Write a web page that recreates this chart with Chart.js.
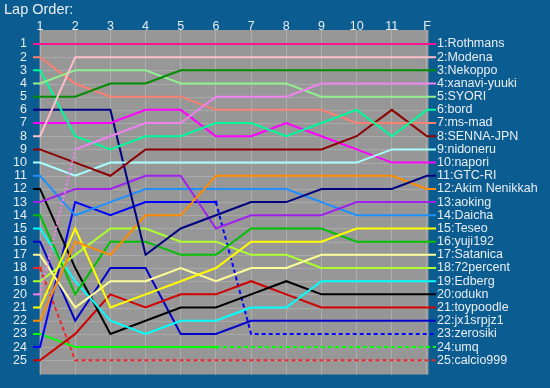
<!DOCTYPE html>
<html>
<head>
<meta charset="utf-8">
<title>Lap Order</title>
<script src="https://cdn.jsdelivr.net/npm/chart.js@4/dist/chart.umd.min.js"></script>
<style>
    html, body { margin: 0; padding: 0; background: #0b5c90; }
    #lapChart { display: block; }
</style>
</head>
<body>
<canvas id="lapChart" width="550" height="388"></canvas>
<script>
// ========== Data ==========
const lapLabels = ['1', '2', '3', '4', '5', '6', '7', '8', '9', '10', '11', 'F'];
const rowTicks = [1, 2, 3, 4, 5, 6, 7, 8, 9, 10, 11, 12, 13, 14, 15, 16, 17, 18, 19, 20, 21, 22, 23, 24, 25];

const drivers = [
    'Rothmans', 'Modena', 'Nekoppo', 'xanavi-yuuki', 'SYORI', 'bord', 'ms-mad', 'SENNA-JPN',
    'nidoneru', 'napori', 'GTC-RI', 'Akim Nenikkah', 'aoking', 'Daicha', 'Teseo', 'yuji192',
    'Satanica', '72percent', 'Edberg', 'odukn', 'toypoodle', 'jx1srpjz1', 'zerosiki', 'umq', 'calcio999'
];

// position after each lap (1..11, F)
const positions = [
    [1, 1, 1, 1, 1, 1, 1, 1, 1, 1, 1, 1],
    [8, 2, 2, 2, 2, 2, 2, 2, 2, 2, 2, 2],
    [5, 5, 4, 4, 3, 3, 3, 3, 3, 3, 3, 3],
    [20, 9, 8, 7, 7, 5, 5, 5, 4, 4, 4, 4],
    [4, 3, 3, 3, 4, 4, 4, 4, 5, 5, 5, 5],
    [3, 8, 9, 8, 8, 7, 7, 8, 7, 6, 8, 6],
    [2, 4, 5, 5, 5, 6, 6, 6, 6, 7, 7, 7],
    [9, 10, 11, 9, 9, 9, 9, 9, 9, 8, 6, 8],
    [10, 11, 10, 10, 10, 10, 10, 10, 10, 10, 9, 9],
    [7, 7, 7, 6, 6, 8, 8, 7, 8, 9, 10, 10],
    [6, 6, 6, 17, 15, 14, 13, 13, 12, 12, 12, 11],
    [22, 16, 17, 14, 14, 11, 11, 11, 11, 11, 11, 12],
    [13, 12, 12, 11, 11, 15, 14, 14, 14, 13, 13, 13],
    [11, 14, 13, 12, 12, 12, 12, 12, 13, 14, 14, 14],
    [21, 15, 21, 20, 19, 18, 16, 16, 16, 15, 15, 15],
    [14, 20, 16, 16, 17, 17, 15, 15, 15, 16, 16, 16],
    [17, 21, 19, 19, 18, 19, 18, 18, 17, 17, 17, 17],
    [19, 17, 15, 15, 16, 16, 17, 17, 18, 18, 18, 18],
    [15, 19, 22, 23, 22, 22, 21, 21, 19, 19, 19, 19],
    [12, 18, 23, 22, 21, 21, 20, 19, 20, 20, 20, 20],
    [25, 23, 20, 21, 20, 20, 19, 20, 21, 21, 21, 21],
    [16, 22, 18, 18, 23, 23, 22, 22, 22, 22, 22, 22],
    [24, 13, 14, 13, 13, 13, 23, 23, 23, 23, 23, 23],
    [23, 24, 24, 24, 24, 24, 24, 24, 24, 24, 24, 24],
    [18, 25, 25, 25, 25, 25, 25, 25, 25, 25, 25, 25]
];

// lap after which a driver retired (dashed afterwards), 0 = finished
const retiredLap = [0, 0, 0, 0, 0, 0, 0, 0, 0, 0, 0, 0, 0, 0, 0, 0, 0, 0, 0, 0, 0, 0, 6, 6, 1];
// lap where the next segment is a pit (dotted), 0 = none
const pitLap = [0, 0, 0, 1, 0, 0, 0, 0, 0, 0, 0, 0, 0, 0, 0, 0, 0, 0, 0, 0, 0, 0, 0, 0, 0];

// ========== Style ==========
const lineColors = [
    '#ff1493', '#ffc0cb', '#008c00', '#ee82ee', '#90ee90', '#00fa9a', '#fa8072', '#8b0000',
    '#aaffff', '#ff00ff', '#000080', '#ff8c00', '#a020f0', '#1e90ff', '#ffff00', '#00c000',
    '#ffff99', '#adff2f', '#00ffff', '#000000', '#d00000', '#0000cd', '#0000ff', '#00ff00', '#ee2828'
];

const FONT = "'Liberation Sans', Arial, sans-serif";
const TEXT = '#e8eef4';
const STUB_L = 0.8;    // short line left of lap 1
const STUB_R = 12.256; // short line right of F

// ========== Plot background ==========
const plotBg = {
    id: 'plotBg',
    beforeDraw(chart) {
        const { ctx, chartArea, scales } = chart;
        const x0 = scales.x.getPixelForValue(1) - 0.5;
        const x1 = scales.x.getPixelForValue(12) + 1.5;
        ctx.save();
        ctx.fillStyle = '#979797';
        ctx.fillRect(x0, chartArea.top, x1 - x0, chartArea.bottom - chartArea.top);
        ctx.strokeStyle = '#a9a9a9';
        ctx.lineWidth = 1;
        rowTicks.forEach(r => {
            const y = Math.round(scales.y.getPixelForValue(r)) + 0.5;
            ctx.beginPath();
            ctx.moveTo(x0, y);
            ctx.lineTo(x1, y);
            ctx.stroke();
        });
        ctx.restore();
    }
};

// ========== Chart ==========
const datasets = drivers.map((name, i) => {
    const pos = positions[i];
    const pts = [{ x: STUB_L, y: pos[0] }]
        .concat(pos.map((p, k) => ({ x: k + 1, y: p })))
        .concat([{ x: STUB_R, y: pos[pos.length - 1] }]);
    return {
        label: name,
        data: pts,
        borderColor: lineColors[i],
        backgroundColor: lineColors[i],
        borderWidth: 2,
        tension: 0,
        pointStyle: 'rect',
        pointRadius: ctx => (retiredLap[i] && ctx.dataIndex === retiredLap[i] ? 2 : 0),
        pointBorderWidth: 0,
        segment: {
            borderDash: ctx => {
                if (retiredLap[i] && ctx.p0DataIndex >= retiredLap[i]) return [4, 3];
                if (pitLap[i] && ctx.p0DataIndex === pitLap[i]) return [2, 2];
                return undefined;
            }
        }
    };
});

new Chart(document.getElementById('lapChart'), {
    type: 'line',
    data: { datasets: datasets },
    plugins: [plotBg],
    options: {
        responsive: false,
        devicePixelRatio: 1,
        animation: false,
        clip: false,
        layout: { padding: { left: 4, top: 0, right: 0, bottom: 13 } },
        plugins: {
            legend: { display: false },
            tooltip: { enabled: false },
            title: {
                display: true,
                text: 'Lap Order:',
                align: 'start',
                color: TEXT,
                font: { family: FONT, size: 14.5, weight: 'normal' },
                padding: { top: 1, bottom: 0 }
            }
        },
        scales: {
            x: {
                type: 'linear',
                position: 'top',
                min: STUB_L,
                max: STUB_R,
                afterBuildTicks: s => { s.ticks = lapLabels.map((l, k) => ({ value: k + 1 })); },
                afterFit: s => { s.height = 11.6; },
                ticks: {
                    autoSkip: false,
                    maxRotation: 0,
                    padding: -4,
                    color: TEXT,
                    font: { family: FONT, size: 12.5 },
                    callback: v => lapLabels[v - 1]
                },
                grid: { color: '#adadad', drawTicks: false },
                border: { display: false }
            },
            y: {
                type: 'linear',
                position: 'left',
                reverse: true,
                min: -0.06,
                max: 26.08,
                afterBuildTicks: s => { s.ticks = rowTicks.map(v => ({ value: v })); },
                afterFit: s => { s.width = 29; },
                ticks: {
                    autoSkip: false,
                    padding: 6,
                    color: TEXT,
                    font: { family: FONT, size: 12.5 },
                    callback: v => String(v)
                },
                grid: { display: false, drawTicks: false },
                border: { display: false }
            },
            names: {
                type: 'linear',
                position: 'right',
                reverse: true,
                min: -0.06,
                max: 26.08,
                afterBuildTicks: s => { s.ticks = rowTicks.map(v => ({ value: v })); },
                afterFit: s => { s.width = 114; },
                ticks: {
                    autoSkip: false,
                    padding: 1,
                    color: TEXT,
                    font: { family: FONT, size: 12.5 },
                    callback: v => v + ':' + drivers[v - 1]
                },
                grid: { display: false, drawTicks: false },
                border: { display: false }
            }
        }
    }
});
</script>
</body>
</html>
